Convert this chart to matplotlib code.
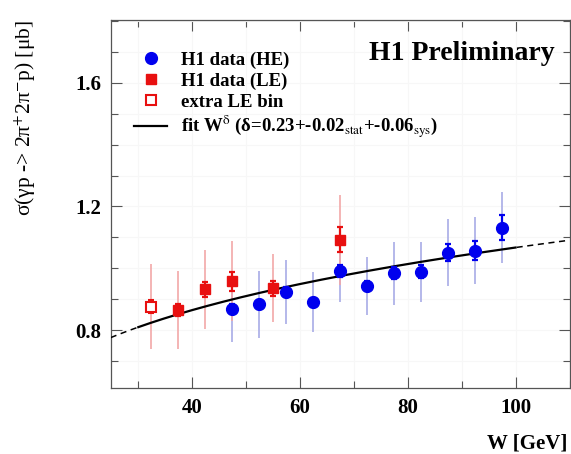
import numpy as np
import matplotlib
matplotlib.use("Agg")
import matplotlib.pyplot as plt
from matplotlib.lines import Line2D
from matplotlib.ticker import MultipleLocator, FixedLocator

plt.rcParams['mathtext.fontset'] = 'stix'
plt.rcParams['font.family'] = ['Liberation Serif', 'DejaVu Serif']

# ---- data ----
he_W = [47.5, 52.5, 57.5, 62.5, 67.5, 72.5, 77.5, 82.5, 87.5, 92.5, 97.5]
he_sig = [0.868, 0.884, 0.923, 0.890, 0.992, 0.943, 0.984, 0.989, 1.051, 1.057, 1.131]
he_stat = [0.015, 0.015, 0.015, 0.015, 0.02, 0.015, 0.02, 0.02, 0.027, 0.030, 0.040]
he_tot = [0.106, 0.108, 0.104, 0.097, 0.100, 0.095, 0.102, 0.097, 0.107, 0.108, 0.115]

le_W = [37.5, 42.5, 47.5, 55.0, 67.5]
le_sig = [0.865, 0.932, 0.958, 0.935, 1.092]
le_stat = [0.020, 0.025, 0.030, 0.025, 0.040]
le_tot = [0.127, 0.128, 0.130, 0.110, 0.145]

ex_W = [32.5]
ex_sig = [0.876]
ex_stat = [0.020]
ex_tot = [0.137]

fit_A = 0.37
fit_delta = 0.23
fit_solid = (30.0, 100.0)
fit_range = (25.0, 110.0)

BLUE = '#0000ee'
RED = '#e81010'

fig = plt.figure(figsize=(5.71, 4.54), dpi=100)
ax = fig.add_axes([0.1939, 0.1448, 0.8035, 0.8112])

ax.set_xlim(*fit_range)
ax.set_ylim(0.612, 1.803)

# fit curve
W_all = np.linspace(fit_range[0], fit_range[1], 400)
f = fit_A * W_all ** fit_delta
m_solid = (W_all >= fit_solid[0]) & (W_all <= fit_solid[1])
ax.plot(W_all[m_solid], f[m_solid], color='black', lw=1.6, zorder=3)
ml = W_all <= fit_solid[0]
mr = W_all >= fit_solid[1]
ax.plot(W_all[ml], f[ml], color='black', lw=1.1, ls=(0, (4, 3)), zorder=3)
ax.plot(W_all[mr], f[mr], color='black', lw=1.1, ls=(0, (4, 3)), zorder=3)

# total errors (faint)
ax.errorbar(he_W, he_sig, yerr=he_tot, fmt='none', ecolor='#a8ace6', elinewidth=1.2, zorder=2)
ax.errorbar(le_W, le_sig, yerr=le_tot, fmt='none', ecolor='#f2a8a8', elinewidth=1.2, zorder=2)
ax.errorbar(ex_W, ex_sig, yerr=ex_tot, fmt='none', ecolor='#f2a8a8', elinewidth=1.2, zorder=2)

# stat errors
ax.errorbar(he_W, he_sig, yerr=he_stat, fmt='o', color=BLUE, ms=8.5, mec=BLUE,
            elinewidth=1.6, capsize=2.5, capthick=1.6, zorder=4)
ax.errorbar(le_W, le_sig, yerr=le_stat, fmt='s', color=RED, ms=7, mec=RED,
            elinewidth=1.6, capsize=2.5, capthick=1.6, zorder=5)
ax.errorbar(ex_W, ex_sig, yerr=ex_stat, fmt='s', color=RED, ms=7, mfc='white', mec=RED,
            mew=1.5, elinewidth=1.6, capsize=2.5, capthick=1.6, zorder=5)

# ticks
ax.xaxis.set_major_locator(FixedLocator([40, 60, 80, 100]))
ax.xaxis.set_minor_locator(MultipleLocator(10))
ax.yaxis.set_major_locator(FixedLocator([0.8, 1.2, 1.6]))
ax.yaxis.set_minor_locator(MultipleLocator(0.1))
ax.tick_params(which='both', direction='in', top=True, right=True, color='#555555', width=0.8)
ax.tick_params(which='major', length=8, pad=7, labelsize=15)
ax.tick_params(which='minor', length=5)
for lab in ax.get_xticklabels() + ax.get_yticklabels():
    lab.set_fontweight('bold')
ax.grid(which='both', color='#f7f7f7', lw=0.8, zorder=0)
for s in ax.spines.values():
    s.set_color('#555555')
    s.set_linewidth(0.9)

ax.set_ylabel('σ(γp -> 2π$^{+}$2π$^{-}$p) [μb]', fontsize=15.5, loc='top')
ax.yaxis.set_label_coords(-0.158, 1.0)
ax.set_xlabel('W [GeV]', fontsize=15, fontweight='bold', loc='right')
ax.xaxis.set_label_coords(0.9946, -0.124)

ax.text(0.968, 0.908, 'H1 Preliminary', transform=ax.transAxes, ha='right', va='center',
        fontsize=20, fontweight='bold')

handles = [
    Line2D([], [], ls='none', marker='o', color=BLUE, ms=8.5),
    Line2D([], [], ls='none', marker='s', color=RED, ms=7),
    Line2D([], [], ls='none', marker='s', mfc='white', mec=RED, mew=1.5, ms=7),
    Line2D([], [], color='black', lw=1.6),
]
labels = ['H1 data (HE)', 'H1 data (LE)', 'extra LE bin',
          'fit W$^{\\mathrm{δ}}$ (δ=0.23+-0.02$_{\\rm stat}$+-0.06$_{\\rm sys}$)']
leg = ax.legend(handles, labels, loc='upper left', bbox_to_anchor=(0.05, 0.915),
                frameon=False, borderpad=0, borderaxespad=0, handlelength=1.8,
                handletextpad=0.75, labelspacing=0.2,
                prop={'family': 'Liberation Serif', 'weight': 'bold', 'size': 13.5})

fig.savefig('out.png', dpi=100)
